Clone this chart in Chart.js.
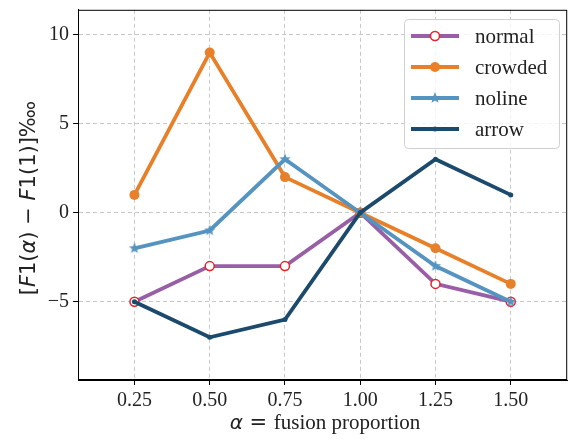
<!DOCTYPE html>
<html>
<head>
<meta charset="utf-8">
<script src="https://cdn.jsdelivr.net/npm/chart.js@4/dist/chart.umd.min.js"></script>
<style>
  html, body { margin: 0; padding: 0; background: #fff; }
  #wrap { width: 577px; height: 439px; }
</style>
</head>
<body>
<div id="wrap"><canvas id="grafico" width="577" height="439"></canvas></div>
<script>
// dados
const alphas = [0.25, 0.50, 0.75, 1.00, 1.25, 1.50];
const xTicks = [0.25, 0.50, 0.75, 1.00, 1.25, 1.50];
const yTicks = [-5, 0, 5, 10];
const nomes = ['normal', 'crowded', 'noline', 'arrow'];
const normal = [-5, -3, -3, 0, -4, -5];
const crowded = [1, 9, 2, 0, -2, -4];
const noline = [-2, -1, 3, 0, -3, -5];
const arrow = [-5, -7, -6, 0, 3, 1];

const cores = {
  normal: '#995fa6',
  crowded: '#e8802a',
  noline: '#5593c0',
  arrow: '#1b4a6c'
};

function estrela(cor, r) {
  const c = document.createElement('canvas');
  const s = Math.ceil(r * 2 + 2);
  c.width = s; c.height = s;
  const g = c.getContext('2d');
  g.fillStyle = cor;
  g.beginPath();
  for (let i = 0; i < 10; i++) {
    const rr = i % 2 === 0 ? r : r * 0.42;
    const a = -Math.PI / 2 + i * Math.PI / 5;
    const px = s / 2 + rr * Math.cos(a);
    const py = s / 2 + rr * Math.sin(a);
    if (i === 0) g.moveTo(px, py); else g.lineTo(px, py);
  }
  g.closePath();
  g.fill();
  return c;
}
const starImg = estrela(cores.noline, 6);

function pontos(valores) {
  return alphas.map((a, i) => ({ x: a, y: valores[i] }));
}

const datasets = [
  {
    label: nomes[0], data: pontos(normal),
    borderColor: cores.normal, borderWidth: 3.8,
    pointStyle: 'circle', pointRadius: 4.5, pointBorderWidth: 1.5,
    pointBackgroundColor: '#ffffff', pointBorderColor: '#e8202a'
  },
  {
    label: nomes[1], data: pontos(crowded),
    borderColor: cores.crowded, borderWidth: 3.8,
    pointStyle: 'circle', pointRadius: 5, pointBorderWidth: 0,
    pointBackgroundColor: cores.crowded, pointBorderColor: cores.crowded
  },
  {
    label: nomes[2], data: pontos(noline),
    borderColor: cores.noline, borderWidth: 3.8,
    pointStyle: starImg, pointRadius: 6,
    pointBackgroundColor: cores.noline, pointBorderColor: cores.noline
  },
  {
    label: nomes[3], data: pontos(arrow),
    borderColor: cores.arrow, borderWidth: 3.8,
    pointStyle: 'circle', pointRadius: 2.5, pointBorderWidth: 0,
    pointBackgroundColor: cores.arrow, pointBorderColor: cores.arrow
  }
];
datasets.forEach((d, i) => { d.order = 4 - i; d.tension = 0; d.fill = false; });

const serif = '"Liberation Serif", "DejaVu Serif", serif';

// molde do eixo, borda superior/direita, titulos e legenda
const molde = {
  id: 'molde',
  afterDraw(chart) {
    const ctx = chart.ctx;
    const a = chart.chartArea;
    ctx.save();
    ctx.strokeStyle = '#000';
    ctx.lineWidth = 1;
    ctx.strokeRect(a.left + 0.5, a.top + 0.5, a.right - a.left - 1, a.bottom - a.top - 1);

    // titulo eixo x
    ctx.fillStyle = '#222';
    ctx.textBaseline = 'alphabetic';
    const y = 429;
    const pedacos = [
      { t: 'α', f: 'italic 20px "DejaVu Sans"' },
      { t: ' = ', f: '21px "DejaVu Sans"' },
      { t: 'fusion proportion', f: '21px ' + serif }
    ];
    let total = 0;
    pedacos.forEach(p => { ctx.font = p.f; p.w = ctx.measureText(p.t).width; total += p.w; });
    let x = 325 - total / 2;
    ctx.textAlign = 'left';
    pedacos.forEach(p => { ctx.font = p.f; ctx.fillText(p.t, x, y); x += p.w; });

    // titulo eixo y
    ctx.translate(35, 198);
    ctx.rotate(-Math.PI / 2);
    const it = 'italic 21px "DejaVu Sans"', rg = '21px "DejaVu Sans"';
    const ylab = [
      { t: '[', f: rg }, { t: 'F', f: it }, { t: '1(', f: rg }, { t: 'α', f: it },
      { t: ') − ', f: rg }, { t: 'F', f: it }, { t: '1(1)]', f: rg }, { t: '‱', f: rg }
    ];
    total = 0;
    ylab.forEach(p => { ctx.font = p.f; p.w = ctx.measureText(p.t).width; total += p.w; });
    x = -total / 2;
    ylab.forEach(p => { ctx.font = p.f; ctx.fillText(p.t, x, 0); x += p.w; });
    ctx.restore();

    // legenda
    ctx.save();
    const bx = 404.5, by = 19.5, bw = 155, bh = 129, r = 4;
    ctx.beginPath();
    ctx.roundRect(bx, by, bw, bh, r);
    ctx.fillStyle = 'rgba(255,255,255,0.8)';
    ctx.fill();
    ctx.strokeStyle = '#d0d0d0';
    ctx.lineWidth = 1;
    ctx.stroke();
    const linhas = [36, 67, 98, 129];
    datasets.forEach((d, i) => {
      const ly = linhas[i];
      ctx.strokeStyle = d.borderColor;
      ctx.lineWidth = 3.8;
      ctx.beginPath();
      ctx.moveTo(411, ly);
      ctx.lineTo(459, ly);
      ctx.stroke();
      if (d.pointStyle === starImg) {
        ctx.drawImage(starImg, 435 - starImg.width / 2, ly - starImg.height / 2);
      } else {
        ctx.beginPath();
        ctx.arc(435, ly, d.pointRadius, 0, Math.PI * 2);
        ctx.fillStyle = d.pointBackgroundColor;
        ctx.fill();
        if (d.pointBorderWidth) {
          ctx.lineWidth = d.pointBorderWidth;
          ctx.strokeStyle = d.pointBorderColor;
          ctx.stroke();
        }
      }
      ctx.fillStyle = '#222';
      ctx.font = '21px ' + serif;
      ctx.textAlign = 'left';
      ctx.textBaseline = 'middle';
      ctx.fillText(d.label, 475, ly + 1);
    });
    ctx.restore();
  }
};

const gradeX = {
  color: '#c8c8c8', lineWidth: 1,
  tickColor: '#000', tickLength: 5, tickBorderDash: [], tickWidth: 1
};

const ctx = document.getElementById('grafico');
new Chart(ctx, {
  type: 'line',
  data: { datasets: datasets },
  options: {
    responsive: false,
    animation: false,
    layout: { padding: { top: 8, right: 6, left: 0, bottom: 0 } },
    plugins: { legend: { display: false }, tooltip: { enabled: false } },
    scales: {
      x: {
        type: 'linear', min: 0.0625, max: 1.6875,
        afterBuildTicks: s => { s.ticks = xTicks.map(v => ({ value: v })); },
        afterFit: s => { s.height = 59; s.paddingLeft = 0; s.paddingRight = 0; },
        ticks: {
          color: '#222', font: { family: serif, size: 20 }, padding: 4,
          callback: v => v.toFixed(2)
        },
        grid: gradeX,
        border: { display: true, color: '#000', width: 1, dash: [4, 3] }
      },
      y: {
        type: 'linear', min: -9.4, max: 11.4,
        afterBuildTicks: s => { s.ticks = yTicks.map(v => ({ value: v })); },
        afterFit: s => { s.width = 78; s.paddingTop = 0; s.paddingBottom = 0; },
        ticks: {
          color: '#222', font: { family: serif, size: 20 }, padding: 4,
          callback: v => (v < 0 ? '−' + Math.abs(v) : String(v))
        },
        grid: gradeX,
        border: { display: true, color: '#000', width: 1, dash: [4, 3] }
      }
    }
  },
  plugins: [molde]
});
</script>
</body>
</html>
